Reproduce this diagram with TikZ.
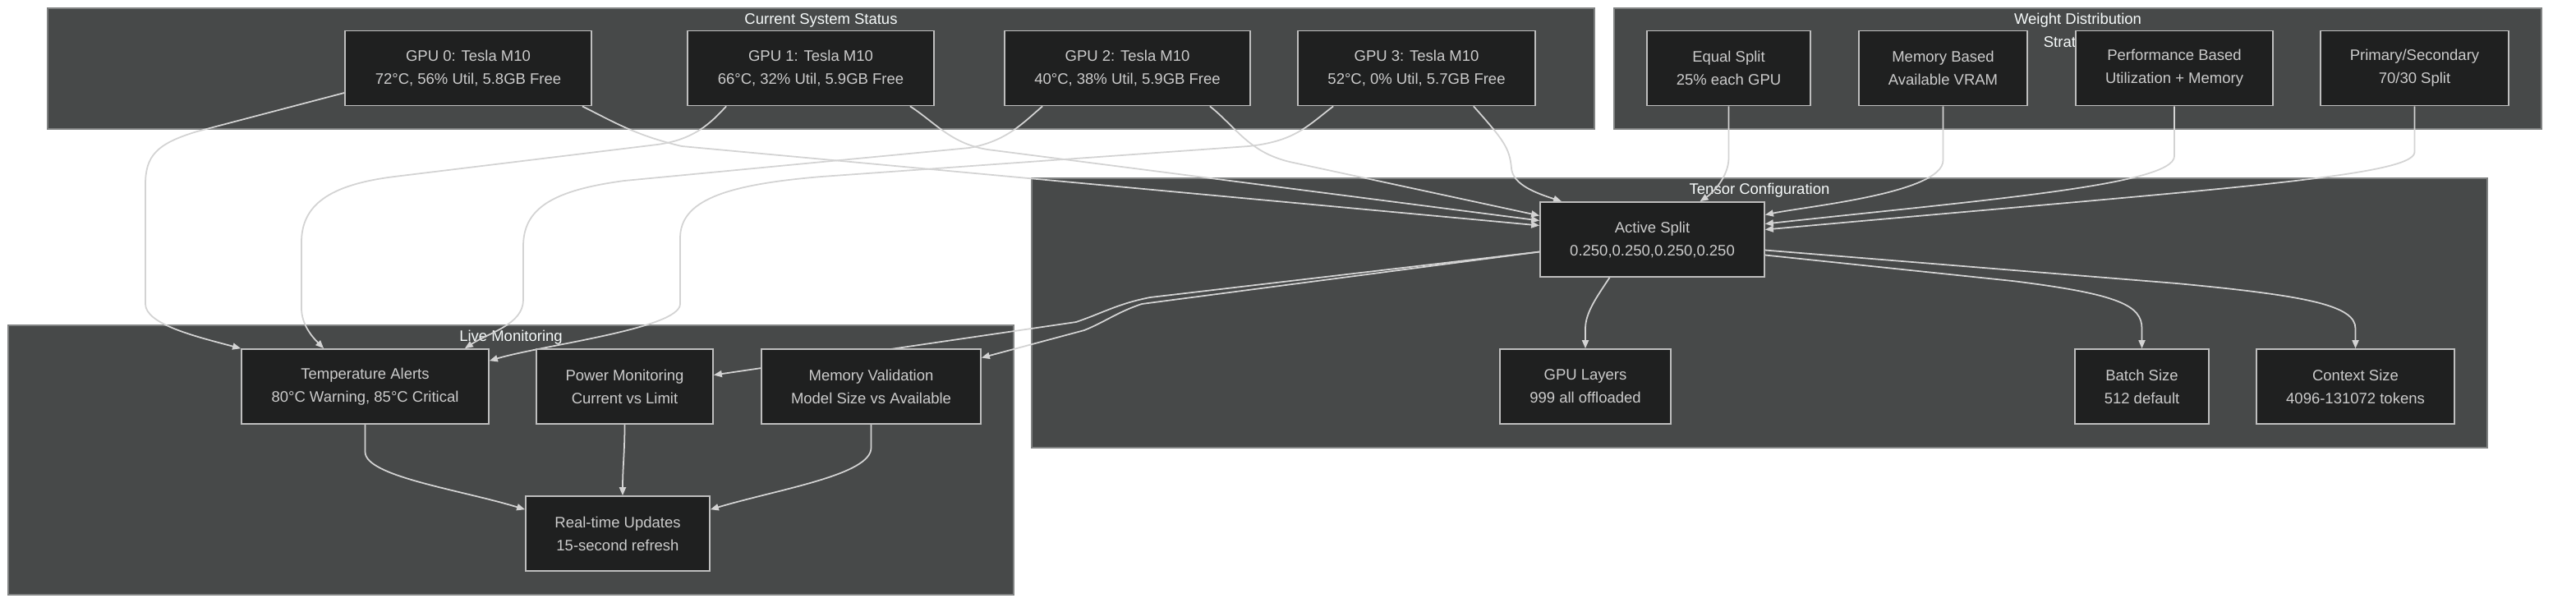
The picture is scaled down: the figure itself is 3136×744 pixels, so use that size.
\documentclass[tikz,border=0pt]{standalone}
\usepackage{fontspec}
\setmainfont{Liberation Sans}
\usepackage{xcolor}
\usepackage{tikz}
\usetikzlibrary{arrows.meta, positioning, calc}

\definecolor{groupfill}{RGB}{71,73,73}
\definecolor{groupline}{RGB}{128,130,130}
\definecolor{boxfill}{RGB}{31,32,32}
\definecolor{boxline}{RGB}{190,190,190}
\definecolor{boxtext}{RGB}{204,204,204}
\definecolor{titletext}{RGB}{246,250,250}
\definecolor{linkline}{RGB}{211,211,211}

\pgfdeclarelayer{back}
\pgfdeclarelayer{mid}
\pgfsetlayers{back,mid,main}

\begin{document}
\begin{tikzpicture}[
    x=0.01cm, y=-0.01cm,
    group/.style={draw=groupline, fill=groupfill, line width=0.4pt},
    grouptitle/.style={
        anchor=north, inner sep=0pt, align=center,
        text=titletext, font=\fontsize{5.26pt}{7.97pt}\selectfont
    },
    box/.style={
        rectangle, draw=boxline, fill=boxfill, line width=0.45pt,
        minimum height=0.91cm, align=center,
        text=boxtext, font=\fontsize{5.26pt}{7.97pt}\selectfont
    },
    flow/.style={draw=linkline, line width=0.5pt, -{Triangle[length=0.1cm, width=0.08cm]}}
]

\useasboundingbox (0,0) rectangle (3136,744);

% 1. Groups (drawn behind everything)
\begin{pgfonlayer}{back}
\fill[white] (0,0) rectangle (3136,744);
\draw[group] (58,10) rectangle (1941,157);
\node[grouptitle] (statusTitle) at (999.5,15.5) {Current System Status};
\draw[group] (1965,10) rectangle (3094,157);
\node[grouptitle] (weightTitle) at (2529.5,15.5) {Weight Distribution\\Strategies};
\draw[group] (1256,217) rectangle (3028,545);
\node[grouptitle] (tensorTitle) at (2142,222.5) {Tensor Configuration};
\draw[group] (10,396) rectangle (1234,724);
\node[grouptitle] (liveTitle) at (622,401.5) {Live Monitoring};
\end{pgfonlayer}

% 2. GPU status row
\node[box, minimum width=3cm] (gpu0) at (570,83) {GPU 0: Tesla M10\\72°C, 56\% Util, 5.8GB Free};
\node[box, minimum width=3cm] (gpu1) at (987,83) {GPU 1: Tesla M10\\66°C, 32\% Util, 5.9GB Free};
\node[box, minimum width=2.99cm] (gpu2) at (1372.5,83) {GPU 2: Tesla M10\\40°C, 38\% Util, 5.9GB Free};
\node[box, minimum width=2.89cm] (gpu3) at (1724.5,83) {GPU 3: Tesla M10\\52°C, 0\% Util, 5.7GB Free};

% 3. Strategies row
\node[box, minimum width=1.99cm] (equal) at (2104.5,83) {Equal Split\\25\% each GPU};
\node[box, minimum width=2.05cm] (membased) at (2365.5,83) {Memory Based\\Available VRAM};
\node[box, minimum width=2.4cm] (perf) at (2647,83) {Performance Based\\Utilization + Memory};
\node[box, minimum width=2.29cm] (primary) at (2939.5,83) {Primary/Secondary\\70/30 Split};

% 4. Tensor configuration
\node[box, minimum width=2.73cm] (active) at (2011.5,291.5) {Active Split\\0.250,0.250,0.250,0.250};
\node[box, minimum width=2.08cm] (layers) at (1930,470.5) {GPU Layers\\999 all offloaded};
\node[box, minimum width=1.63cm] (batch) at (2607.5,470.5) {Batch Size\\512 default};
\node[box, minimum width=2.41cm] (context) at (2867.5,470.5) {Context Size\\4096-131072 tokens};

% 5. Live monitoring
\node[box, minimum width=3.01cm] (temp) at (444.5,470.5) {Temperature Alerts\\80°C Warning, 85°C Critical};
\node[box, minimum width=2.15cm] (power) at (760.5,470.5) {Power Monitoring\\Current vs Limit};
\node[box, minimum width=2.67cm] (memval) at (1060.5,470.5) {Memory Validation\\Model Size vs Available};
\node[box, minimum width=2.24cm] (realtime) at (752,649.5) {Real-time Updates\\15-second refresh};

% 6. Connections (under the boxes, over the groups)
\begin{pgfonlayer}{mid}
% GPUs feed the temperature alerts
\draw[flow] ($(gpu0.west)+(0,30)$) -- (240,160) .. controls (190,175) and (177,190) .. (177,225)
    -- (177,370) .. controls (177,395) and (240,410) .. (temp.north west);
\draw[flow] ($(gpu1.south west)+(48,0)$) .. controls (865,150) and (845,170) .. (800,176)
    -- (480,215) .. controls (400,225) and (367,250) .. (367,295)
    -- (367,375) .. controls (367,395) and (380,410) .. ($(temp.north west)+(101,0)$);
\draw[flow] ($(gpu2.south west)+(47,0)$) .. controls (1245,150) and (1225,172) .. (1180,180)
    -- (760,220) .. controls (670,232) and (637,255) .. (637,300)
    -- (637,365) .. controls (637,395) and (595,405) .. ($(temp.north east)+(-30,0)$);
\draw[flow] ($(gpu3.south west)+(44,0)$) .. controls (1590,155) and (1575,172) .. (1520,178)
    -- (1000,215) .. controls (880,225) and (828,245) .. (828,290)
    -- (828,370) .. controls (828,400) and (660,420) .. ($(temp.north east)+(0,15)$);

% GPUs feed the active split
\draw[flow] ($(gpu0.south east)+(-12,0)$) .. controls (750,150) and (775,165) .. (830,178)
    -- ($(active.west)+(0,-17)$);
\draw[flow] ($(gpu1.south east)+(-30,0)$) .. controls (1140,150) and (1160,178) .. (1210,183)
    -- ($(active.west)+(0,-23)$);
\draw[flow] ($(gpu2.south east)+(-50,0)$) .. controls (1505,155) and (1520,185) .. (1570,197)
    -- ($(active.west)+(0,-29)$);
\draw[flow] ($(gpu3.south east)+(-76,0)$) .. controls (1830,170) and (1838,180) .. (1840,205)
    .. controls (1842,225) and (1870,235) .. ($(active.north west)+(27,0)$);

% Strategies feed the active split
\draw[flow] (equal.south) -- (2104.5,192) .. controls (2104.5,215) and (2085,235) .. ($(active.north)+(58,0)$);
\draw[flow] (membased.south) -- (2365.5,195) .. controls (2365.5,235) and (2200,251) .. ($(active.east)+(0,-30)$);
\draw[flow] (perf.south) -- (2647,190) .. controls (2647,225) and (2420,243) .. ($(active.east)+(0,-19)$);
\draw[flow] (primary.south) -- (2939.5,185) .. controls (2939.5,215) and (2698,230) .. ($(active.east)+(0,-12)$);

% Active split drives the settings and checks
\draw[flow] ($(active.south)+(-52,0)$) .. controls (1945,360) and (1930,380) .. (1930,400) -- (layers.north);
\draw[flow] ($(active.east)+(0,19)$) -- (2450,342) .. controls (2580,358) and (2607.5,372) .. (2607.5,400) -- (batch.north);
\draw[flow] ($(active.east)+(0,13)$) -- (2650,345) .. controls (2810,360) and (2867.5,372) .. (2867.5,400) -- (context.north);
\draw[flow] ($(active.west)+(0,15)$) -- (1390,370) .. controls (1360,380) and (1345,392) .. (1320,402)
    -- ($(memval.east)+(0,-35)$);
\draw[flow] ($(active.west)+(0,15)$) -- (1400,362) .. controls (1360,370) and (1345,380) .. (1310,392)
    -- ($(power.east)+(0,-14)$);

% Checks feed the updates
\draw[flow] (temp.south) -- (444.5,550) .. controls (444.5,580) and (560,596) .. ($(realtime.north west)+(0,17)$);
\draw[flow] (power.south) .. controls (760.5,550) and (758,570) .. ($(realtime.north)+(6,0)$);
\draw[flow] (memval.south) -- (1060.5,545) .. controls (1060.5,578) and (950,595) .. ($(realtime.north east)+(0,17)$);
\end{pgfonlayer}

\end{tikzpicture}
\end{document}
